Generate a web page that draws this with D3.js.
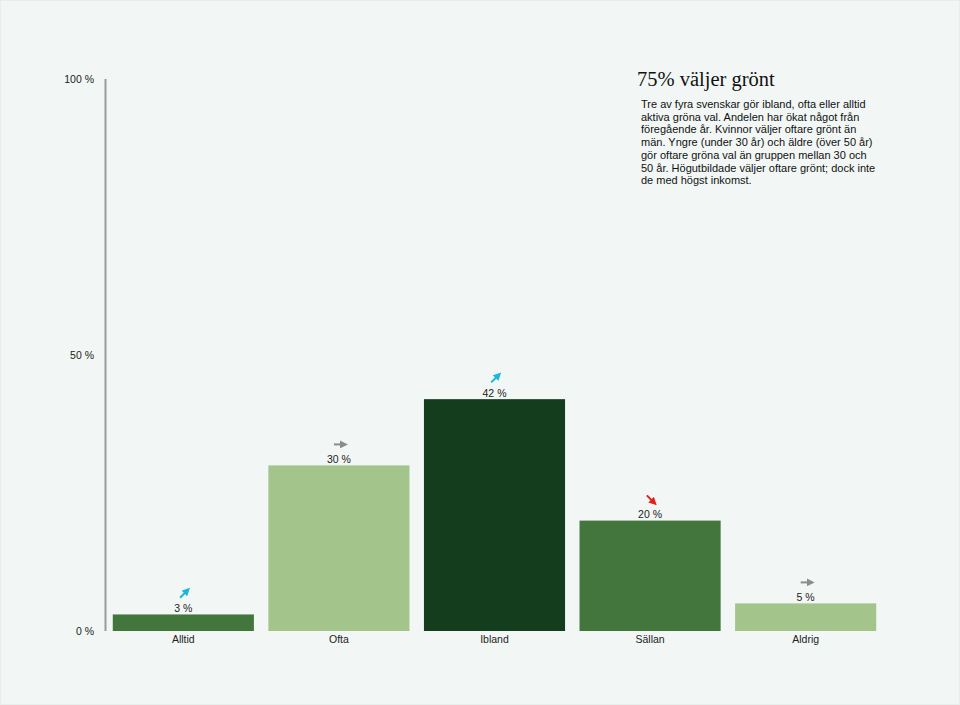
<!DOCTYPE html>
<html><head><meta charset="utf-8">
<script src="https://cdn.jsdelivr.net/npm/d3@7"></script>
<style>
html,body{margin:0;padding:0;background:#f2f7f5;}
svg{display:block;}
</style></head>
<body>
<script>
const categories = ["Alltid", "Ofta", "Ibland", "Sällan", "Aldrig"];
const values = [3, 30, 42, 20, 5];
const trends = ["up", "flat", "up", "down", "flat"];
const barColors = ["#42763c", "#a3c48a", "#143d1e", "#42763c", "#a3c48a"];
const yTicks = [0, 50, 100];
const title = "75% väljer grönt";
const bodyLines = [
  "Tre av fyra svenskar gör ibland, ofta eller alltid",
  "aktiva gröna val. Andelen har ökat något från",
  "föregående år. Kvinnor väljer oftare grönt än",
  "män. Yngre (under 30 år) och äldre (över 50 år)",
  "gör oftare gröna val än gruppen mellan 30 och",
  "50 år. Högutbildade väljer oftare grönt; dock inte",
  "de med högst inkomst."
];

const W = 960, H = 705;
const svg = d3.select("body").append("svg").attr("width", W).attr("height", H);
svg.append("rect").attr("x", 0.5).attr("y", 0.5).attr("width", W - 1).attr("height", H - 1)
  .attr("fill", "#f2f7f5").attr("stroke", "#e8eeec");

const y = d3.scaleLinear().domain([0, 100]).range([631, 79]);
const x = d3.scaleBand().domain(categories).range([105, 884]).paddingInner(0.093).paddingOuter(0.05);

// y axis line
svg.append("line").attr("x1", 105.5).attr("x2", 105.5).attr("y1", y(100)).attr("y2", y(0))
  .attr("stroke", "#9a9a9a").attr("stroke-width", 2);

svg.selectAll("text.ytick").data(yTicks).enter().append("text")
  .attr("class", "ytick")
  .attr("x", 94).attr("y", d => y(d) + 4)
  .attr("text-anchor", "end")
  .attr("font-family", "Liberation Sans, Arial, sans-serif").attr("font-size", 10.5)
  .attr("fill", "#222")
  .text(d => d + " %");

// bars
svg.selectAll("rect.bar").data(values).enter().append("rect")
  .attr("class", "bar")
  .attr("x", (d, i) => x(categories[i]))
  .attr("y", d => y(d))
  .attr("width", x.bandwidth())
  .attr("height", d => y(0) - y(d))
  .attr("fill", (d, i) => barColors[i]);

// value labels
svg.selectAll("text.val").data(values).enter().append("text")
  .attr("class", "val")
  .attr("x", (d, i) => x(categories[i]) + x.bandwidth() / 2)
  .attr("y", d => y(d) - 2.5)
  .attr("text-anchor", "middle")
  .attr("font-family", "Liberation Sans, Arial, sans-serif").attr("font-size", 10.5)
  .attr("fill", "#222")
  .text(d => d + " %");

// category labels
svg.selectAll("text.cat").data(categories).enter().append("text")
  .attr("class", "cat")
  .attr("x", d => x(d) + x.bandwidth() / 2)
  .attr("y", 643)
  .attr("text-anchor", "middle")
  .attr("font-family", "Liberation Sans, Arial, sans-serif").attr("font-size", 10.5)
  .attr("fill", "#222")
  .text(d => d);

// trend arrows
const arrowColor = {up: "#1ab6e0", flat: "#8c8c8c", down: "#e0231b"};
const arrowAngle = {up: -45, flat: 0, down: 45};
const defs = svg.append("defs");
Object.keys(arrowColor).forEach(k => {
  defs.append("marker").attr("id", "ah-" + k)
    .attr("viewBox", "0 0 10 10").attr("refX", 5).attr("refY", 5)
    .attr("markerWidth", 4).attr("markerHeight", 4).attr("orient", "auto")
    .append("path").attr("d", "M0,0 L10,5 L0,10 Z").attr("fill", arrowColor[k]);
});
const ag = svg.selectAll("g.arrow").data(values).enter().append("g")
  .attr("class", "arrow")
  .attr("transform", (d, i) => `translate(${x(categories[i]) + x.bandwidth() / 2 + 1},${y(d) - 21}) rotate(${arrowAngle[trends[i]]})`);
ag.append("line")
  .attr("x1", -6).attr("x2", 4).attr("y1", 0).attr("y2", 0)
  .attr("stroke", (d, i) => arrowColor[trends[i]]).attr("stroke-width", 2)
  .attr("marker-end", (d, i) => `url(#ah-${trends[i]})`);

// title and text
svg.append("text").attr("x", 637).attr("y", 86)
  .attr("font-family", "Liberation Serif, Times New Roman, serif").attr("font-size", 20.5)
  .attr("fill", "#111").text(title);
svg.selectAll("text.body").data(bodyLines).enter().append("text")
  .attr("class", "body")
  .attr("x", 641).attr("y", (d, i) => 108 + i * 12.7)
  .attr("font-family", "Liberation Sans, Arial, sans-serif").attr("font-size", 11)
  .attr("fill", "#111").text(d => d);
</script>
</body></html>
